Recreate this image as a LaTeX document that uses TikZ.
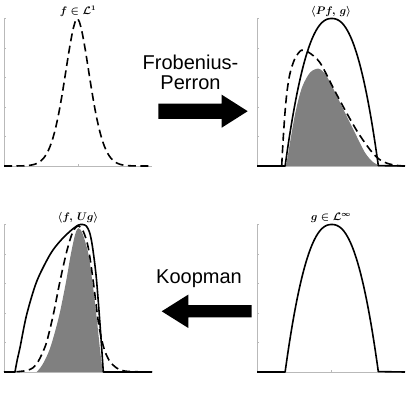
\documentclass[tikz,border=0pt]{standalone}
\usepackage{fontspec}
\newfontfamily\opfont{Liberation Sans}
\usepackage{tikz}

\tikzset{
  axisline/.style={gray!55, line width=0.4pt},
  curve/.style={line width=1.6pt, line join=round},
  dashcurve/.style={curve, dash pattern=on 8pt off 4.5pt},
  overlap/.style={fill=black!50},
  ptitle/.style={anchor=base, inner sep=0pt, font=\boldmath\fontsize{10.5}{12}\selectfont},
  oplabel/.style={anchor=base, inner sep=0pt, font=\opfont\fontsize{20}{20}\selectfont},
}
\newcommand{\plotaxes}{%
  \draw[axisline] (0,1) -- (0,0) -- (1,0);
  \foreach \k in {0,...,5} \draw[axisline] (0,\k/5) -- ++(2pt,0);
  \draw[axisline] (0.5,0) -- ++(0,2pt);}
\newcommand{\gcurve}{%
  \draw[curve] (0,0) -- plot[domain=0.19:0.82, samples=64] (\x,{1-(abs(\x-0.505)/0.315)^2.3}) -- (1,0);}

\begin{document}
\begin{tikzpicture}[x=1pt, y=1pt]
\useasboundingbox (0,0) rectangle (415,396);

% ---- top left: f
\begin{scope}[shift={(4,230)}, x=148pt, y=147.5pt]
\plotaxes
\draw[dashcurve] plot[domain=0:1, samples=101] (\x,{exp(-(abs(\x-0.495)/0.123)^1.75)});
\node[ptitle] (ftitle) at (0.5,1.03) {$f\in\mathcal{L}^1$};
\end{scope}

% ---- top right: Pf against g
\begin{scope}[shift={(257,230)}, x=148pt, y=147.5pt]
\plotaxes
\fill[overlap] plot[smooth] coordinates {(0.196,0) (0.21,0.08) (0.23,0.20) (0.257,0.35)
  (0.285,0.47) (0.313,0.555) (0.36,0.635) (0.414,0.66) (0.46,0.625) (0.505,0.545)
  (0.583,0.385) (0.674,0.2) (0.73,0.09) (0.78,0.03) (0.831,0)} -- cycle;
\draw[dashcurve] (0,0) -- plot[smooth] coordinates {(0.167,0) (0.171,0.08) (0.178,0.2)
  (0.189,0.36) (0.201,0.49) (0.217,0.60) (0.236,0.675) (0.26,0.735) (0.30,0.785)
  (0.35,0.77) (0.426,0.70) (0.52,0.52) (0.60,0.37) (0.68,0.23) (0.76,0.115)
  (0.82,0.05) (0.88,0.018) (0.944,0.004) (1,0)};
\gcurve
\node[ptitle] (pftitle) at (0.5,1.03) {$\langle Pf,\, g\rangle$};
\end{scope}

% ---- bottom left: f against Ug
\begin{scope}[shift={(4,24)}, x=148pt, y=147.5pt]
\plotaxes
\fill[overlap] plot[smooth] coordinates {(0.221,0) (0.26,0.05) (0.311,0.16) (0.37,0.37)
  (0.417,0.6) (0.45,0.79) (0.48,0.93) (0.502,0.975) (0.53,0.94) (0.57,0.80)
  (0.60,0.59) (0.626,0.37) (0.649,0.15) (0.667,0)} -- cycle;
\draw[dashcurve] plot[smooth] coordinates {(0,0) (0.10,0.003) (0.16,0.012) (0.198,0.03)
  (0.23,0.07) (0.26,0.13) (0.289,0.206) (0.333,0.388) (0.378,0.614) (0.424,0.818)
  (0.465,0.95) (0.502,0.99) (0.537,0.95) (0.570,0.84) (0.603,0.614) (0.637,0.342)
  (0.66,0.22) (0.682,0.14) (0.71,0.08) (0.739,0.045) (0.784,0.014) (0.85,0.003) (1,0)};
\draw[curve] (0,0) -- plot[smooth] coordinates {(0.074,0) (0.09,0.085) (0.108,0.165)
  (0.153,0.388) (0.221,0.614) (0.311,0.796) (0.378,0.886) (0.446,0.954) (0.50,0.995)
  (0.53,1.0) (0.556,0.99) (0.577,0.95) (0.593,0.88) (0.61,0.76) (0.626,0.614)
  (0.649,0.32) (0.671,0)} -- (1,0);
\node[ptitle] (ugtitle) at (0.5,1.03) {$\langle f,\, Ug\rangle$};
\end{scope}

% ---- bottom right: g
\begin{scope}[shift={(257,24)}, x=148pt, y=147.5pt]
\plotaxes
\gcurve
\node[ptitle] (gtitle) at (0.5,1.03) {$g\in\mathcal{L}^\infty$};
\end{scope}

% ---- operator labels
\node[oplabel] (fplabel) at (190.5,326.7) {Frobenius-};
\node[oplabel] (prlabel) at (190.5,306.7) {Perron};
\node[oplabel] (kplabel) at (199,112) {Koopman};

% ---- operator arrows
\fill (158.3,277.2) -- (221.7,277.2) -- (221.7,268.3) -- (247.7,284.8)
  -- (221.7,301.3) -- (221.7,292.4) -- (158.3,292.4) -- cycle;
\fill (251.7,78.5) -- (188.3,78.5) -- (188.3,68) -- (161.7,84.7)
  -- (188.3,101.4) -- (188.3,90.9) -- (251.7,90.9) -- cycle;
\end{tikzpicture}
\end{document}
